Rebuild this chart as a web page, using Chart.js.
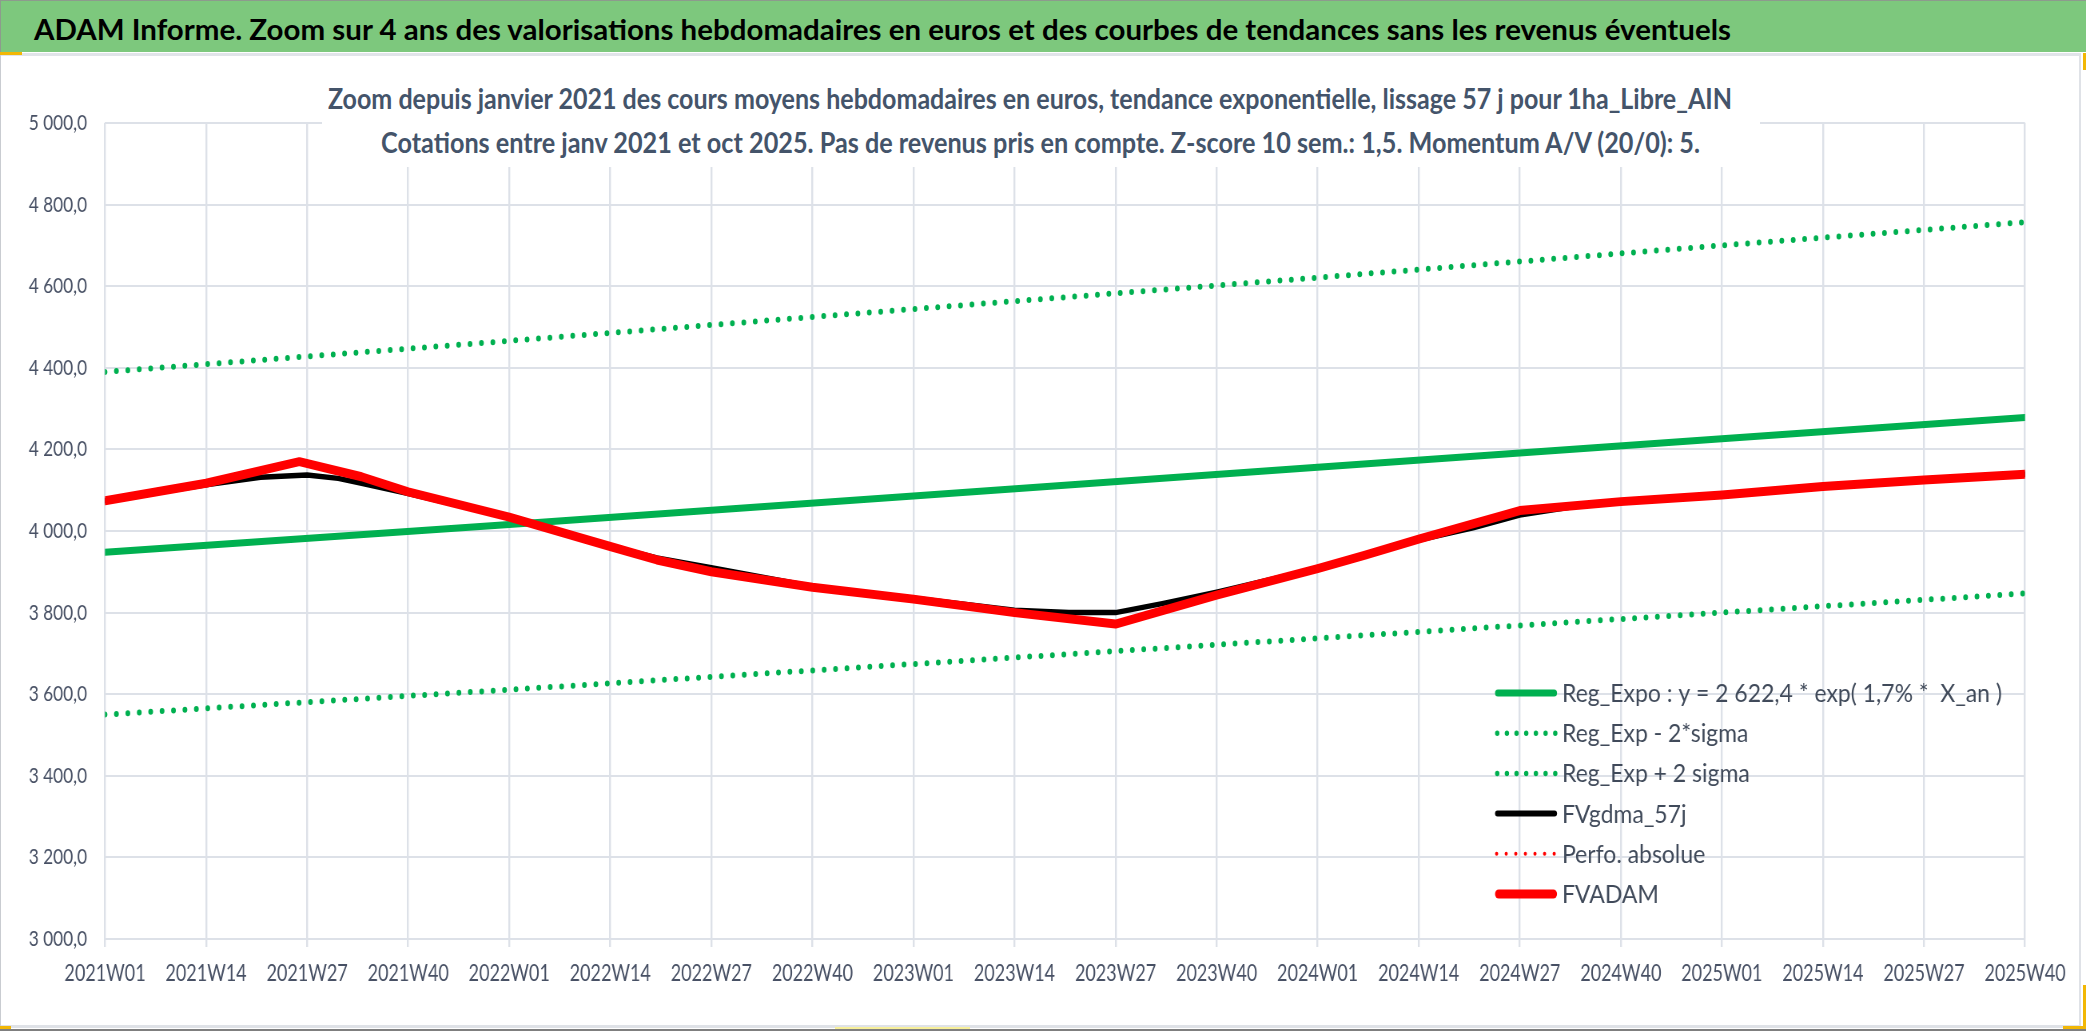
<!DOCTYPE html>
<html>
<head>
<meta charset="utf-8">
<script src="https://cdn.jsdelivr.net/npm/chart.js@4.4.0/dist/chart.umd.min.js"></script>
<style>
  html, body { margin:0; padding:0; }
  body { width:2086px; height:1031px; position:relative; overflow:hidden; background:#ffffff;
         font-family:Lato,'DejaVu Sans',sans-serif; }
  #banner { position:absolute; left:0; top:0; width:2086px; height:52px; background:#7DC87D;
            border-top:1px solid #8d9b8d; box-sizing:border-box; border-left:1px solid #8d9b8d; }
  #bannerText { position:absolute; left:33px; top:14px; font-weight:bold; font-size:28px; line-height:28px;
                color:#000; white-space:nowrap; transform-origin:left top; }
  #frame { position:absolute; left:0; top:53px; width:2081px; height:975px; box-sizing:border-box;
           border-top:3px solid #e1e4e9; border-right:2px solid #dfe2e7; border-bottom:3px solid #dfe2e7;
           border-left:1px solid #c9ccd1; }
  #chartWrap { position:absolute; left:0; top:56px; width:2078px; height:969px; overflow:hidden; }
  #c { position:absolute; left:0; top:0; transform-origin:0 0; }
  #titleBox { position:absolute; left:322px; top:56px; width:1438px; height:111px; background:#fff; }
  .t { position:absolute; font-weight:bold; font-size:29px; line-height:29px; color:#44546A;
       white-space:nowrap; transform-origin:left top; }
  .y { position:absolute; background:#f2b705; }
  #bottomLine { position:absolute; left:0; top:1029px; width:2086px; height:2px; background:#7f7f7f; }
</style>
</head>
<body>
<div id="banner"><div id="bannerText">ADAM Informe. Zoom sur 4 ans des valorisations hebdomadaires en euros et des courbes de tendances sans les revenus éventuels</div></div>
<div id="frame"></div>
<div id="chartWrap"><canvas id="c" width="2600" height="969"></canvas></div>
<div id="titleBox"></div>
<div class="t" id="t1" style="left:328px; top:83px;">Zoom depuis janvier 2021 des cours moyens hebdomadaires en euros, tendance exponentielle, lissage 57 j pour 1ha_Libre_AIN</div>
<div class="t" id="t2" style="left:381px; top:127px;">Cotations entre janv 2021 et oct 2025. Pas de revenus pris en compte. Z-score 10 sem.: 1,5. Momentum A/V (20/0): 5.</div>
<div class="y" style="left:0; top:52px; width:22px; height:3px;"></div>
<div class="y" style="left:2083px; top:53px; width:3px; height:17px;"></div>
<div class="y" style="left:2083px; top:985px; width:3px; height:44px;"></div>
<div class="y" style="left:2063px; top:1026px; width:23px; height:3px;"></div>
<div class="y" style="left:0; top:1026px; width:11px; height:3px;"></div>
<div class="y" style="left:835px; top:1027px; width:135px; height:2px; background:#f7ef9a;"></div>
<div id="bottomLine"></div>

<script>
// ---------- DATA ----------
const tickLabels = ['2021W01','2021W14','2021W27','2021W40','2022W01','2022W14','2022W27','2022W40',
                    '2023W01','2023W14','2023W27','2023W40','2024W01','2024W14','2024W27','2024W40',
                    '2025W01','2025W14','2025W27','2025W40'];

// week offsets counted from 2021W01
const trendWeeks     = [0, 52, 104, 156, 208, 247];
const regExpo        = [3948, 4016, 4086, 4156, 4226, 4278];
const regMinus2Sigma = [3550, 3611, 3674, 3737, 3800, 3847];
const regPlus2Sigma  = [4390, 4466, 4544, 4621, 4700, 4757];

const gdmaWeeks = [0, 13, 20, 26, 30, 33, 39, 52, 65, 71, 78, 91, 104, 117, 124, 130, 136, 143, 156, 169, 176, 182, 189, 195, 208, 221, 234, 247];
const fvgdma57j = [4074, 4113, 4132, 4137, 4129, 4117, 4092, 4034, 3963, 3934, 3910, 3864, 3835, 3806, 3800, 3800, 3822, 3850, 3908, 3978, 4008, 4039, 4060, 4072, 4088, 4109, 4125, 4139];

const adamWeeks    = [0, 13, 25, 33, 39, 52, 65, 71, 78, 91, 104, 117, 130, 143, 156, 162, 169, 182, 195, 208, 221, 234, 247];
const fvadam       = [4074, 4117, 4170, 4133, 4096, 4034, 3962, 3929, 3900, 3862, 3833, 3800, 3772, 3843, 3908, 3940, 3980, 4050, 4072, 4088, 4109, 4125, 4139];
const perfoAbsolue = [4074, 4117, 4170, 4133, 4096, 4034, 3962, 3929, 3900, 3862, 3833, 3800, 3772, 3843, 3908, 3940, 3980, 4050, 4072, 4088, 4109, 4125, 4139];

const seriesLabels = ['Reg_Expo : y = 2 622,4 * exp( 1,7% *  X_an )', 'Reg_Exp - 2*sigma', 'Reg_Exp + 2 sigma',
                      'FVgdma_57j', 'Perfo. absolue', 'FVADAM'];

// ---------- LAYOUT / STYLE ----------
const CW = 2600;                 // canvas logical width, squeezed horizontally to 2078 px
const SX = 2078 / CW;            // horizontal condensation (narrow lettering like the original)
const FONT = "Lato,'DejaVu Sans',sans-serif";
const GREEN = '#00B050', RED = '#FF0000', BLACK = '#000000';
const GRID = '#dde1e8';
const TXT = '#475064';

document.getElementById('c').style.transform = 'scaleX(' + SX + ')';

function pts(xs, ys) { return xs.map((x, i) => ({ x: x, y: ys[i] })); }
function frNum(v) {
  const s = v.toFixed(1);
  const parts = s.split('.');
  return parts[0].replace(/\B(?=(\d{3})+(?!\d))/g, ' ') + ',' + parts[1];
}
function fit(id, target) {
  const el = document.getElementById(id);
  el.style.transform = 'none';
  const w = el.getBoundingClientRect().width;
  el.style.transform = 'scaleX(' + (target / w) + ')';
}

const legendPlugin = {
  id: 'customLegend',
  afterDraw(chart) {
    const ctx = chart.ctx;
    const x0 = 1495 / SX, x1 = 1557 / SX, tx = 1562 / SX, y0 = 637, dy = 40.2;
    ctx.save();
    ctx.font = '25px ' + FONT;
    const sx = (440 / SX) / ctx.measureText(seriesLabels[0]).width;
    ctx.restore();
    chart.data.datasets.forEach((ds, i) => {
      const y = y0 + i * dy;
      const lw = ds.legendWidth;
      ctx.save();
      ctx.strokeStyle = ds.borderColor;
      ctx.lineWidth = lw;
      ctx.lineCap = 'round';
      ctx.beginPath();
      if (ds.legendDash) {
        ctx.setLineDash(ds.legendDash);
        ctx.moveTo(x0 + lw / 2, y); ctx.lineTo(x1, y);
      } else {
        ctx.moveTo(x0 + lw / 2, y); ctx.lineTo(x1 - lw / 2, y);
      }
      ctx.stroke();
      ctx.restore();
      ctx.save();
      ctx.font = '25px ' + FONT;
      ctx.fillStyle = '#404a5a';
      ctx.textBaseline = 'middle';
      ctx.translate(tx, y + 1);
      ctx.scale(sx, 1);
      ctx.fillText(ds.label, 0, 0);
      ctx.restore();
    });
  }
};

const datasets = [
  { label: seriesLabels[0], data: pts(trendWeeks, regExpo), borderColor: GREEN, borderWidth: 7,
    legendWidth: 7, order: 3 },
  { label: seriesLabels[1], data: pts(trendWeeks, regMinus2Sigma), borderColor: GREEN, borderWidth: 6,
    borderDash: [0, 14.3], legendWidth: 5.5, legendDash: [0, 12.1], order: 4 },
  { label: seriesLabels[2], data: pts(trendWeeks, regPlus2Sigma), borderColor: GREEN, borderWidth: 6,
    borderDash: [0, 14.3], legendWidth: 5.5, legendDash: [0, 12.1], order: 5 },
  { label: seriesLabels[3], data: pts(gdmaWeeks, fvgdma57j), borderColor: BLACK, borderWidth: 5.5,
    legendWidth: 6, order: 2 },
  { label: seriesLabels[4], data: pts(adamWeeks, perfoAbsolue), borderColor: RED, borderWidth: 4,
    borderDash: [0, 12], legendWidth: 4, legendDash: [0, 12], order: 1 },
  { label: seriesLabels[5], data: pts(adamWeeks, fvadam), borderColor: RED, borderWidth: 9,
    legendWidth: 9, order: 0 }
];
datasets.forEach(d => { d.pointRadius = 0; d.tension = 0; d.fill = false;
  d.borderJoinStyle = 'round'; d.borderCapStyle = 'round'; });

new Chart(document.getElementById('c'), {
  type: 'line',
  data: { datasets: datasets },
  options: {
    responsive: false,
    devicePixelRatio: 1,
    animation: false,
    layout: { padding: { top: 67, right: CW - 2025 / SX, bottom: 0, left: 0 } },
    plugins: { legend: { display: false }, tooltip: { enabled: false }, title: { display: false } },
    scales: {
      x: {
        type: 'linear', min: 0, max: 247,
        afterFit(s) { s.height = 86; s.paddingLeft = 0; s.paddingRight = 0; },
        ticks: { stepSize: 13, autoSkip: false, maxRotation: 0, minRotation: 0, padding: 13,
                 color: TXT, font: { family: FONT, size: 22.5 },
                 callback: (v) => tickLabels[Math.round(v / 13)] },
        grid: { color: GRID, lineWidth: 2.4, tickLength: 8, drawTicks: true },
        border: { display: false }
      },
      y: {
        min: 3000, max: 5000,
        afterFit(s) { s.width = 105 / SX; },
        ticks: { stepSize: 200, padding: 18 / SX, color: TXT, font: { family: FONT, size: 21.5 },
                 callback: (v) => frNum(v) },
        grid: { color: GRID, lineWidth: 2, drawTicks: false },
        border: { display: false }
      }
    }
  },
  plugins: [legendPlugin]
});

function fitAll() {
  fit('bannerText', 1697);
  fit('t1', 1404);
  fit('t2', 1319);
}
fitAll();
if (document.fonts && document.fonts.ready) document.fonts.ready.then(fitAll);
</script>
</body>
</html>
